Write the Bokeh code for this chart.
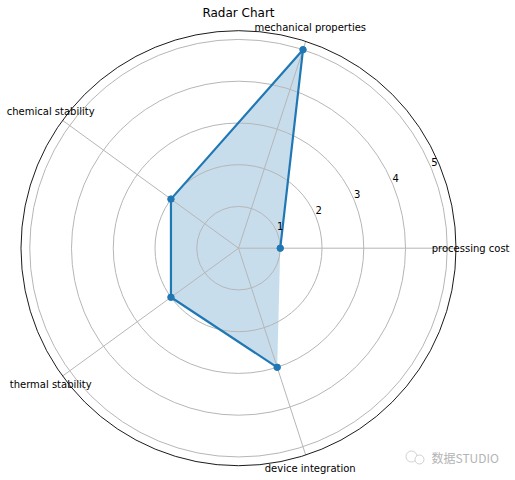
import math
from bokeh.plotting import figure
from bokeh.core.properties import value
from bokeh.embed import file_html
from bokeh.resources import INLINE

categories = ["processing cost", "mechanical properties", "chemical stability", "thermal stability", "device integration"]
values = [1, 5, 2, 2, 3]
radial_ticks = [1, 2, 3, 4, 5]
title_text = "Radar Chart"
watermark = "数据STUDIO"

OUTER = 5.21
LABEL_R = 5.56
PX = 41.75
CX, CY = 238.0, 247.7   # page pixels of the polar centre
W, H = 515, 480
MARGIN = 0
BLUE = "#1f77b4"
GRID = "#b6b6b6"
FONT = value("DejaVu Sans")

angles = [2 * math.pi * i / len(categories) for i in range(len(categories))]

p = figure(width=W, height=H, output_backend="svg", toolbar_location=None,
           x_range=((MARGIN - CX) / PX, (MARGIN + W - CX) / PX),
           y_range=((CY - MARGIN - H) / PX, (CY - MARGIN) / PX),
           min_border=0, x_axis_type=None, y_axis_type=None)
p.outline_line_color = None
p.grid.visible = False

xs = [v * math.cos(a) for v, a in zip(values, angles)]
ys = [v * math.sin(a) for v, a in zip(values, angles)]

# filled area sits under the grid
p.patch(xs, ys, fill_color=BLUE, fill_alpha=0.25, line_color=None)

# circular grid and spokes
p.circle(x=[0] * len(radial_ticks), y=[0] * len(radial_ticks), radius=radial_ticks,
         fill_color=None, line_color=GRID, line_width=1)
p.segment(x0=[0] * 5, y0=[0] * 5,
          x1=[OUTER * math.cos(a) for a in angles],
          y1=[OUTER * math.sin(a) for a in angles],
          line_color=GRID, line_width=1)
p.circle(x=[0], y=[0], radius=[OUTER], fill_color=None, line_color="black", line_width=0.9)

# series line and points
p.line(xs, ys, line_color=BLUE, line_width=2.2)
p.scatter(xs, ys, size=6.5, fill_color=BLUE, line_color=BLUE)

# radial tick labels
ra = math.radians(22.5)
p.text(x=[r * math.cos(ra) for r in radial_ticks], y=[r * math.sin(ra) for r in radial_ticks],
       text=[str(r) for r in radial_ticks], text_font=FONT, text_font_size="10px",
       text_color="black", text_align="center", text_baseline="middle",
       x_offset=3, y_offset=-6)

# category labels
p.text(x=[LABEL_R * math.cos(a) for a in angles], y=[LABEL_R * math.sin(a) for a in angles],
       text=categories, text_font=FONT, text_font_size="10px", text_color="black",
       text_align="center", text_baseline="middle")

# title
p.text(x=[0], y=[(CY - 12) / PX], text=[title_text], text_font=FONT, text_font_size="12px",
       text_color="black", text_align="center", text_baseline="middle")

# watermark
p.text(x=[(431 - CX) / PX], y=[(CY - 457) / PX], text=[watermark],
       text_font=value("Noto Sans CJK SC"), text_font_size="12px", text_color="#b4b4b4",
       text_align="left", text_baseline="middle")
p.circle(x=[(411 - CX) / PX, (419 - CX) / PX], y=[(CY - 456) / PX, (CY - 459) / PX],
         radius=[5.5 / PX, 4.5 / PX], fill_color="white", line_color="#c4c4c4", line_width=0.8)

open("out.html", "w").write(file_html(p, INLINE))
